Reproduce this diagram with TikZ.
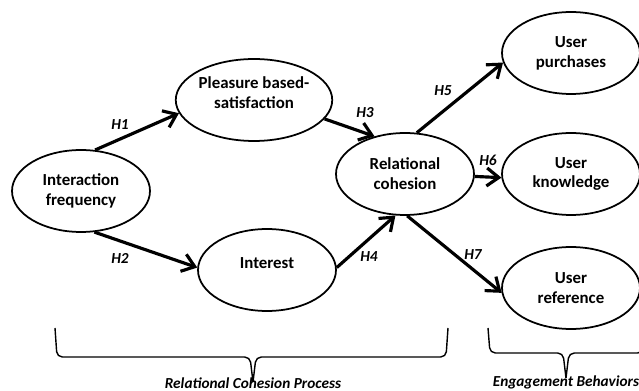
\documentclass[tikz,border=0pt]{standalone}
\usepackage{fontspec}
\setmainfont{Carlito}
\usetikzlibrary{shapes.geometric,arrows.meta}

\begin{document}
\begin{tikzpicture}[x=0.02cm, y=-0.02cm, >={Straight Barb[length=2.4mm,width=3.6mm]},
    construct/.style={ellipse, draw, line width=1pt, minimum width=2.76cm, minimum height=1.64cm,
        inner sep=0pt, align=center, font=\fontsize{9.6}{11.3}\selectfont\bfseries},
    hyp/.style={->, line width=1.8pt},
    hlabel/.style={font=\fontsize{8.7}{10}\selectfont\bfseries\itshape}]

    \useasboundingbox (0,0) rectangle (639,391);

    % Construtos
    \node[construct] (freq) at (81,191) {Interaction\\frequency};
    \node[construct] (pleas) at (254,100) {Pleasure based-\\satisfaction\\[-3.3pt]};
    \node[construct] (inter) at (267,270) {Interest\\[-3.3pt]};
    \node[construct] (coh) at (405,174) {Relational\\cohesion};
    \node[construct] (purch) at (571,53) {User\\purchases};
    \node[construct] (know) at (571,174) {User\\knowledge};
    \node[construct] (ref) at (571,288) {User\\reference};

    % Hipoteses
    \draw[hyp] (freq.71) -- (pleas.190);
    \draw[hyp] (freq.288) -- (inter.178);
    \draw[hyp] (pleas.345) -- (coh.129);
    \draw[hyp] (inter.2) -- (coh.257);
    \draw[hyp] (coh.74) -- (purch.188);
    \draw[hyp] (coh.358) -- (know.183);
    \draw[hyp] (coh.273) -- (ref.184);

    % Rotulos H
    \node[hlabel] (h1) at (120,125) {H1};
    \node[hlabel] (h2) at (120,258) {H2};
    \node[hlabel] (h3) at (365,113) {H3};
    \node[hlabel] (h4) at (369,257) {H4};
    \node[hlabel] (h5) at (443,91) {H5};
    \node[hlabel] (h6) at (488,160) {H6};
    \node[hlabel] (h7) at (473,255) {H7};

    % Chaves
    \draw[line width=0.8pt, rounded corners=3pt] (55,328) -- (57,357) -- (250,357) -- (253,382);
    \draw[line width=0.8pt, rounded corners=3pt] (448,328) -- (446,357) -- (256,357) -- (253,382);
    \draw[line width=0.8pt, rounded corners=3pt] (488,328) -- (490,353) -- (563,353) -- (566,378);
    \draw[line width=0.8pt, rounded corners=3pt] (645,328) -- (643,353) -- (569,353) -- (566,378);

    \node[hlabel, anchor=base, inner sep=0pt] (proc) at (253,389) {Relational Cohesion Process};
    \node[hlabel, anchor=base, inner sep=0pt] (behav) at (566,387) {Engagement Behaviors};

\end{tikzpicture}
\end{document}
